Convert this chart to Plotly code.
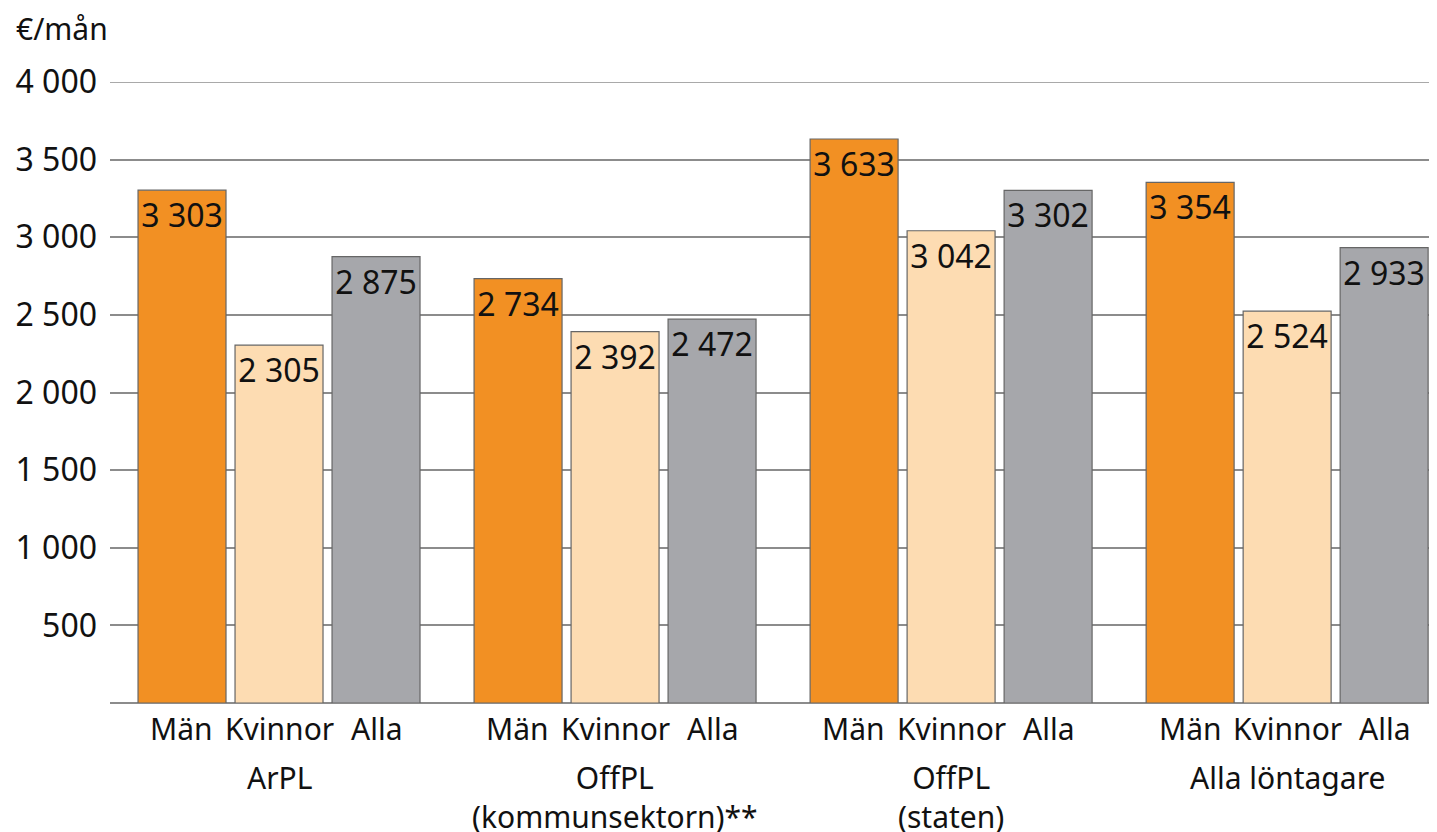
import plotly.graph_objects as go

groups = ["ArPL", "OffPL<br>(kommunsektorn)**", "OffPL<br>(staten)", "Alla löntagare"]
series = ["Män", "Kvinnor", "Alla"]
man = [3303, 2734, 3633, 3354]
kvinnor = [2305, 2392, 3042, 2524]
alla = [2875, 2472, 3302, 2933]
y_ticks = [500, 1000, 1500, 2000, 2500, 3000, 3500, 4000]
y_tick_labels = ["500", "1 000", "1 500", "2 000", "2 500", "3 000", "3 500", "4 000"]

colors = ["#F29023", "#FDDCB2", "#A6A7AB"]
font = "Noto Sans"
fs = 30
num_fs = 32


def fmt(v):
    # thousands separated by a space
    return f"{v:,}".replace(",", " ")


fig = go.Figure()
for name, vals, col in zip(series, [man, kvinnor, alla], colors):
    fig.add_trace(go.Bar(
        x=list(range(len(groups))), y=vals, name=name,
        marker=dict(color=col, line=dict(color="#666666", width=1.2)),
        text=[fmt(v) for v in vals], textposition="inside", insidetextanchor="end",
        textfont=dict(family=font, size=num_fs, color="#111111"), textangle=0,
        cliponaxis=False,
    ))

# sub-labels under each bar and group names
offset = 0.289
annotations = []
for g, grp in enumerate(groups):
    for i, s in enumerate(series):
        annotations.append(dict(x=g + (i - 1) * offset, y=0, xref="x", yref="y", text=s,
                                showarrow=False, yanchor="middle", yshift=-25,
                                font=dict(family=font, size=fs, color="#111111")))
    annotations.append(dict(x=g, y=0, xref="x", yref="y", text=grp, showarrow=False,
                            yanchor="top", yshift=-52,
                            font=dict(family=font, size=fs, color="#111111")))

annotations.append(dict(x=0, y=1.0, xref="paper", yref="paper", text="€/mån", showarrow=False,
                        xanchor="left", yanchor="middle", xshift=-96, yshift=54,
                        font=dict(family=font, size=fs, color="#111111")))

# body of the page has an 8px margin, so the figure is a bit smaller than the window
fig.update_layout(
    width=1429, height=824,
    margin=dict(l=102, r=0, t=74, b=129),
    paper_bgcolor="white", plot_bgcolor="white",
    barmode="group", bargap=0.134, bargroupgap=0.093,
    showlegend=False,
    uniformtext=dict(minsize=num_fs, mode="show"),
    annotations=annotations,
    shapes=[
        dict(type="line", xref="paper", yref="y", x0=0, x1=1, y0=3000, y1=3000,
             line=dict(color="#111111", width=1.5), layer="below"),
        dict(type="line", xref="paper", yref="y", x0=0, x1=1, y0=4000, y1=4000,
             line=dict(color="#8C8C8C", width=1.5), layer="below"),
    ],
)
fig.update_xaxes(range=[-0.503, 3.446], showticklabels=False, showgrid=False, zeroline=False,
                 showline=False)
fig.update_yaxes(range=[0, 4000], tickvals=y_ticks, ticktext=y_tick_labels,
                 showgrid=True, gridcolor="#8C8C8C", gridwidth=1.5,
                 zeroline=True, zerolinecolor="#8C8C8C", zerolinewidth=1.5,
                 ticks="", ticklabelstandoff=12,
                 tickfont=dict(family=font, size=num_fs, color="#111111"))

fig.write_html("out.html")
